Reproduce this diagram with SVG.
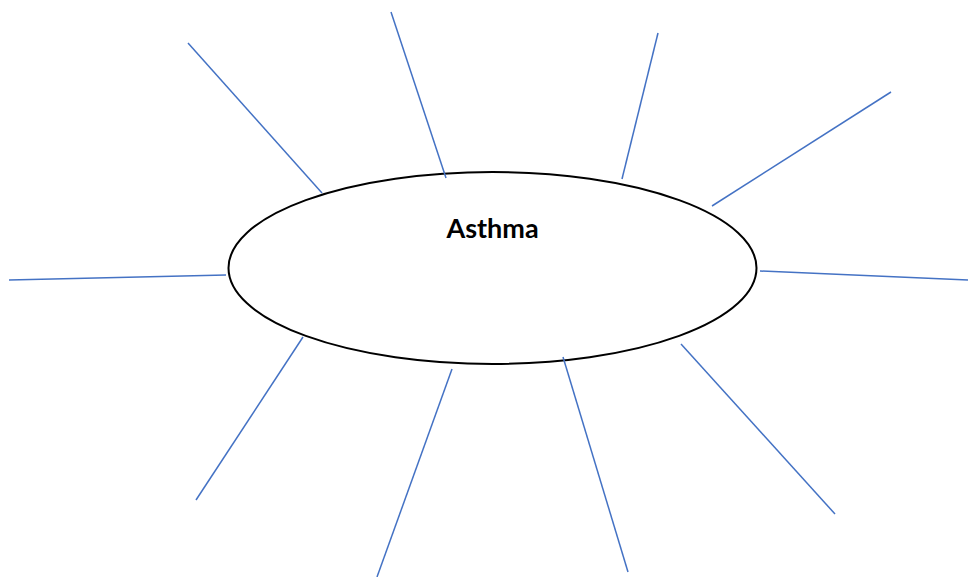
<svg xmlns="http://www.w3.org/2000/svg" width="968" height="577" viewBox="0 0 968 577">
<style>
.spoke{stroke:#4472C4;stroke-width:1.5;fill:none}
.center{fill:#fff;stroke:#000;stroke-width:2}
.lbl{font-family:Lato,"Liberation Sans",sans-serif;font-weight:bold;font-size:27px;fill:#000}
</style>
<rect width="968" height="577" fill="#fff"/>
<g id="asthma">
<ellipse class="center" cx="492.5" cy="268" rx="264" ry="96"/>
<text class="lbl" x="492.5" y="237.5" text-anchor="middle">Asthma</text>
</g>
<g id="connectors">
<line class="spoke" x1="188" y1="43" x2="322" y2="193"/>
<line class="spoke" x1="391" y1="12" x2="446" y2="178"/>
<line class="spoke" x1="658" y1="33" x2="622" y2="179"/>
<line class="spoke" x1="891" y1="92" x2="712" y2="206"/>
<line class="spoke" x1="9" y1="280" x2="226" y2="275"/>
<line class="spoke" x1="760" y1="271" x2="968" y2="280"/>
<line class="spoke" x1="303" y1="337" x2="196" y2="500"/>
<line class="spoke" x1="452" y1="369" x2="377" y2="577"/>
<line class="spoke" x1="563" y1="357" x2="628" y2="572"/>
<line class="spoke" x1="681" y1="344" x2="835" y2="514"/>
</g>
</svg>
